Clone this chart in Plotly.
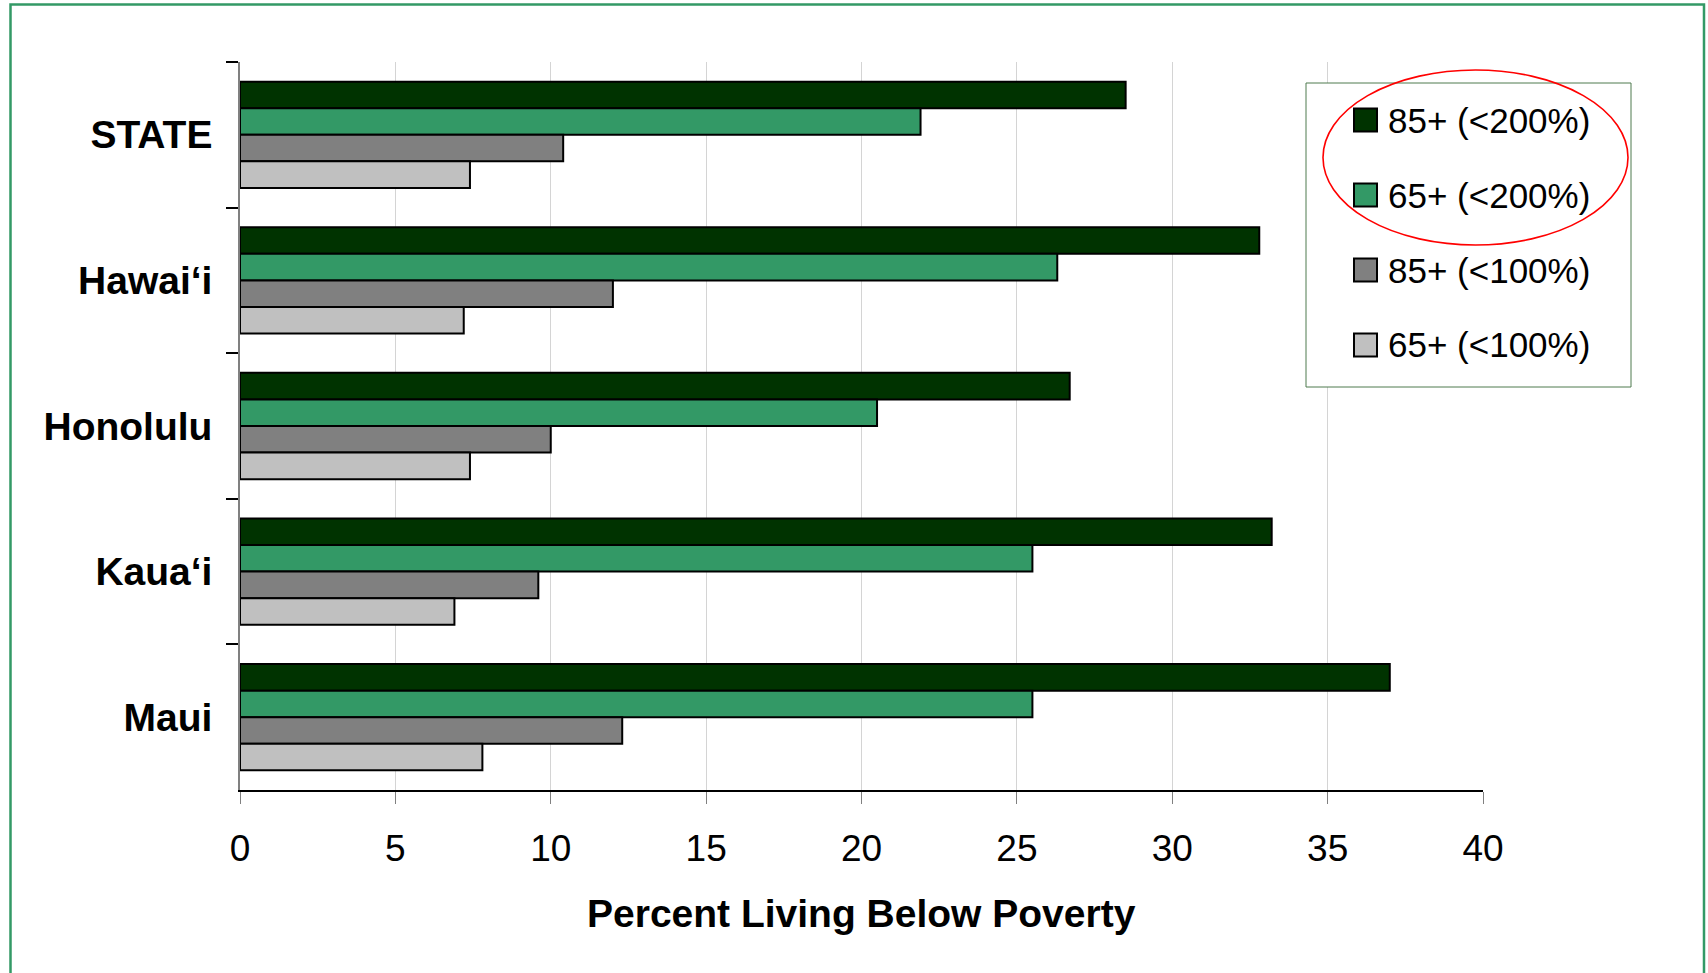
import plotly.graph_objects as go

# ---------------- data ----------------
categories = ["STATE", "Hawai\u2018i", "Honolulu", "Kaua\u2018i", "Maui"]
series_names = ["85+ (<200%)", "65+ (<200%)", "85+ (<100%)", "65+ (<100%)"]
s85_200 = [28.5, 32.8, 26.7, 33.2, 37.0]
s65_200 = [21.9, 26.3, 20.5, 25.5, 25.5]
s85_100 = [10.4, 12.0, 10.0, 9.6, 12.3]
s65_100 = [7.4, 7.2, 7.4, 6.9, 7.8]
series_values = [s85_200, s65_200, s85_100, s65_100]
series_colors = ["#003300", "#339966", "#808080", "#C0C0C0"]
x_ticks = [0, 5, 10, 15, 20, 25, 30, 35, 40]
x_title = "Percent Living Below Poverty"

# ---------------- geometry (pixels, page coords) ----------------
W, H = 1708, 973
L, R, T, B = 240, 1483, 62, 790  # plot area in page pixels
PW, PH = R - L, B - T


def px(x):
    return (x - L) / PW


def py(y):
    return (B - y) / PH


FONT = "Arial, 'Liberation Sans', sans-serif"

fig = go.Figure()
for name, vals, col in zip(series_names, series_values, series_colors):
    fig.add_trace(go.Bar(
        y=categories, x=vals, name=name, orientation="h",
        marker=dict(color=col, line=dict(color="#000000", width=2)),
        showlegend=False,
    ))

shapes = []
annotations = []

# outer frame
shapes.append(dict(type="rect", xref="paper", yref="paper",
                   x0=px(10.5), x1=px(1704), y0=py(990), y1=py(4.5),
                   line=dict(color="#339966", width=2.5), fillcolor="rgba(0,0,0,0)",
                   layer="above"))

# legend box
shapes.append(dict(type="rect", xref="paper", yref="paper",
                   x0=px(1306), x1=px(1631), y0=py(387), y1=py(83),
                   line=dict(color="#4F7A4F", width=1), fillcolor="#FFFFFF",
                   layer="above"))
centers = [120, 195, 270, 345]
for name, col, cy in zip(series_names, series_colors, centers):
    shapes.append(dict(type="rect", xref="paper", yref="paper",
                       x0=px(1354), x1=px(1377), y0=py(cy + 11.5), y1=py(cy - 11.5),
                       line=dict(color="#000000", width=2), fillcolor=col,
                       layer="above"))
    annotations.append(dict(xref="paper", yref="paper", x=px(1386), y=py(cy),
                            xanchor="left", yanchor="middle", showarrow=False,
                            text=name, font=dict(family=FONT, size=35, color="#000000")))

# red ellipse highlight
shapes.append(dict(type="circle", xref="paper", yref="paper",
                   x0=px(1323), x1=px(1628), y0=py(245), y1=py(70),
                   line=dict(color="#FF0000", width=1.6), fillcolor="rgba(0,0,0,0)",
                   layer="above"))

# x-axis title
annotations.append(dict(xref="paper", yref="paper", x=px(861.5), y=py(913),
                        xanchor="center", yanchor="middle", showarrow=False,
                        text="<b>" + x_title + "</b>",
                        font=dict(family=FONT, size=39, color="#000000")))

fig.update_layout(
    width=W, height=H,
    margin=dict(l=L, r=W - R, t=T, b=H - B, pad=0),
    paper_bgcolor="#FFFFFF", plot_bgcolor="#FFFFFF",
    barmode="group", bargap=0.27, bargroupgap=0,
    shapes=shapes, annotations=annotations,
    showlegend=False,
    font=dict(family=FONT, color="#000000"),
)
fig.update_xaxes(
    range=[0, 40], tickvals=x_ticks, ticktext=[str(v) for v in x_ticks],
    ticks="outside", ticklen=12, tickcolor="#808080", tickwidth=1,
    showgrid=True, gridcolor="#D4D4D4", gridwidth=1,
    showline=True, linecolor="#000000", linewidth=1.5,
    zeroline=False, ticklabelstandoff=13,
    tickfont=dict(family=FONT, size=37, color="#000000"),
)
fig.update_yaxes(
    type="category", categoryorder="array", categoryarray=categories,
    autorange="reversed", tickson="boundaries",
    ticks="outside", ticklen=12, tickcolor="#000000", tickwidth=1.5,
    showgrid=False, showline=True, linecolor="#808080", linewidth=1.5,
    ticklabelstandoff=18,
    tickfont=dict(family=FONT, size=39, color="#000000", weight="bold"),
)

fig.write_html(
    "out.html",
    config={"displayModeBar": False},
    post_script="document.body.style.margin='0';document.body.style.overflow='hidden';",
)
